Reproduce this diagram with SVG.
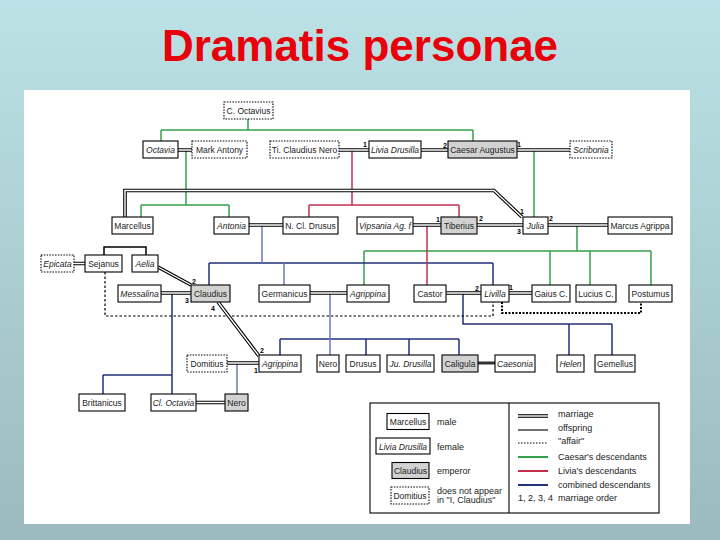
<svg xmlns="http://www.w3.org/2000/svg" width="720" height="540" viewBox="0 0 720 540">
<defs>
<linearGradient id="bg" x1="0" y1="0" x2="0" y2="1">
<stop offset="0" stop-color="#bbe2e6"/>
<stop offset="1" stop-color="#9bbabf"/>
</linearGradient>
<style>
.b{fill:#fff;stroke:#000;stroke-width:1.1}
.e{fill:#d2d2d2;stroke:#000;stroke-width:1.1}
.d{fill:#fff;stroke:#000;stroke-width:1.1;stroke-dasharray:1.5 1.3}
.t{font-family:"Liberation Sans",Arial,sans-serif;font-size:8.5px;fill:#222;text-anchor:middle}
.f{font-style:italic}
.n{font-family:"Liberation Sans",Arial,sans-serif;font-size:7px;font-weight:bold;fill:#000;text-anchor:middle}
.g{fill:none;stroke:#34a04c;stroke-width:1.5}
.r{fill:none;stroke:#c4304c;stroke-width:1.5}
.v{fill:none;stroke:#23307a;stroke-width:1.5}
.s{fill:none;stroke:#6b7db5;stroke-width:1.5}
.k{fill:none;stroke:#000;stroke-width:1.5}
.m1{fill:none;stroke:#000;stroke-width:3.6}
.m2{fill:none;stroke:#fff;stroke-width:1.4}
.lt{font-family:"Liberation Sans",Arial,sans-serif;font-size:9px;fill:#222}
</style>
</defs>
<rect x="0" y="0" width="720" height="540" fill="url(#bg)"/>
<rect x="24" y="90" width="666" height="434" fill="#fff"/>
<text x="360" y="61" font-family="'Liberation Sans',Arial,sans-serif" font-size="44" font-weight="bold" fill="#e8000b" text-anchor="middle">Dramatis personae</text>

<g id="connectors">
<path class="g" d="M248,119V130M161,130H473M161,130V141M473,130V141"/>
<path class="g" d="M186,150V205M141,205H229M141,205V217M229,205V217"/>
<path class="g" d="M534,150V217"/>
<path class="g" d="M577,225V251M364,251H651M364,251V285M550,251V285M590,251V285M651,251V285"/>
<path class="r" d="M352,150V205M309,205H459M309,205V217M459,205V217"/>
<path class="v" d="M209,263H493M209,263V285M493,263V285"/>
<path class="r" d="M427,225V285"/>
<path class="v" d="M172,293V394M103,375H172M103,375V394"/>
<path class="v" d="M280,339H459M280,339V355M366,339V355M409,339V355M459,339V355"/>
<path class="v" d="M463,293V324H612M569,324V355M612,324V355"/>
<path class="s" d="M262,225V263M284,263V285M330,293V355M237,363V394"/>
<path class="k" d="M104,255V247H146V255"/>
<path fill="none" stroke="#333" stroke-width="3" d="M478,363H495"/>
<path fill="none" stroke="#000" stroke-width="1.2" stroke-dasharray="2.5 2" d="M105,272V316H493V302"/>
<path fill="none" stroke="#000" stroke-width="2" stroke-dasharray="2 1.5" d="M502,302V313H641V302"/>
<g id="marriages">
<path class="m1" d="M178,150H192M339,150H369M421,150H448M517,150H570M125,217V190.5H494L522,217M249,225H283M413,225H441M477,225H523M548,225H608M74,263.5H85M158,267L191,285M161,293H191M310,293H347M446,293H481M509,293H532M218,302L259,356M227,363H259M196,402.5H225"/>
<path class="m2" d="M178,150H192M339,150H369M421,150H448M517,150H570M125,217V190.5H494L522,217M249,225H283M413,225H441M477,225H523M548,225H608M74,263.5H85M158,267L191,285M161,293H191M310,293H347M446,293H481M509,293H532M218,302L259,356M227,363H259M196,402.5H225"/>
</g>
<g id="order-labels">
<text class="n" x="365" y="147">1</text>
<text class="n" x="445" y="148">2</text>
<text class="n" x="519" y="147">1</text>
<text class="n" x="438" y="222">1</text>
<text class="n" x="481" y="221">2</text>
<text class="n" x="519" y="234">3</text>
<text class="n" x="551" y="221">2</text>
<text class="n" x="522" y="214">1</text>
<text class="n" x="194" y="284">2</text>
<text class="n" x="187" y="303">3</text>
<text class="n" x="213" y="311">4</text>
<text class="n" x="262" y="353">2</text>
<text class="n" x="256" y="373">1</text>
<text class="n" x="477" y="291">2</text>
<text class="n" x="511" y="290">1</text>
</g>
</g>

<g id="octavius"><rect class="d" x="224" y="102" width="49" height="17"/><text class="t" x="248.5" y="114">C. Octavius</text></g>
<g id="octavia"><rect class="b" x="143" y="141" width="35" height="17"/><text class="t f" x="160.5" y="153">Octavia</text></g>
<g id="antony"><rect class="d" x="192" y="141" width="55" height="17"/><text class="t" x="219.5" y="153">Mark Antony</text></g>
<g id="claudius-nero"><rect class="d" x="270" y="141" width="69" height="17"/><text class="t" x="304.5" y="153">Ti. Claudius Nero</text></g>
<g id="livia"><rect class="b" x="369" y="141" width="52" height="17"/><text class="t f" x="395" y="153">Livia Drusilla</text></g>
<g id="augustus"><rect class="e" x="448" y="141" width="69" height="17"/><text class="t" x="482.5" y="153">Caesar Augustus</text></g>
<g id="scribonia"><rect class="d" x="570" y="141" width="42" height="17"/><text class="t f" x="591" y="153">Scribonia</text></g>

<g id="marcellus"><rect class="b" x="112" y="217" width="41" height="17"/><text class="t" x="132.5" y="229">Marcellus</text></g>
<g id="antonia"><rect class="b" x="214" y="217" width="35" height="17"/><text class="t f" x="231.5" y="229">Antonia</text></g>
<g id="drusus"><rect class="b" x="283" y="217" width="55" height="17"/><text class="t" x="310.5" y="229">N. Cl. Drusus</text></g>
<g id="vipsania"><rect class="b" x="357" y="217" width="56" height="17"/><text class="t f" x="385" y="229">Vipsania Ag. f</text></g>
<g id="tiberius"><rect class="e" x="441" y="217" width="36" height="17"/><text class="t" x="459" y="229">Tiberius</text></g>
<g id="julia"><rect class="b" x="523" y="217" width="25" height="17"/><text class="t f" x="535.5" y="229">Julia</text></g>
<g id="agrippa"><rect class="b" x="608" y="217" width="64" height="17"/><text class="t" x="640" y="229">Marcus Agrippa</text></g>

<g id="epicata"><rect class="d" x="41" y="255" width="33" height="17"/><text class="t f" x="57.5" y="267">Epicata</text></g>
<g id="sejanus"><rect class="b" x="85" y="255" width="37" height="17"/><text class="t" x="103.5" y="267">Sejanus</text></g>
<g id="aelia"><rect class="b" x="132" y="255" width="26" height="17"/><text class="t f" x="145" y="267">Aelia</text></g>

<g id="messalina"><rect class="b" x="118" y="285" width="43" height="17"/><text class="t f" x="139.5" y="297">Messalina</text></g>
<g id="claudius"><rect class="e" x="191" y="285" width="39" height="17"/><text class="t" x="210.5" y="297">Claudius</text></g>
<g id="germanicus"><rect class="b" x="259" y="285" width="51" height="17"/><text class="t" x="284.5" y="297">Germanicus</text></g>
<g id="agrippina"><rect class="b" x="347" y="285" width="42" height="17"/><text class="t f" x="368" y="297">Agrippina</text></g>
<g id="castor"><rect class="b" x="414" y="285" width="32" height="17"/><text class="t" x="430" y="297">Castor</text></g>
<g id="livilla"><rect class="b" x="481" y="285" width="28" height="17"/><text class="t f" x="495" y="297">Livilla</text></g>
<g id="gaius"><rect class="b" x="532" y="285" width="38" height="17"/><text class="t" x="551" y="297">Gaius C.</text></g>
<g id="lucius"><rect class="b" x="576" y="285" width="40" height="17"/><text class="t" x="596" y="297">Lucius C.</text></g>
<g id="postumus"><rect class="b" x="629" y="285" width="43" height="17"/><text class="t" x="650.5" y="297">Postumus</text></g>

<g id="domitius"><rect class="d" x="187" y="355" width="40" height="17"/><text class="t" x="207" y="367">Domitius</text></g>
<g id="agrippina-minor"><rect class="b" x="259" y="355" width="42" height="17"/><text class="t f" x="280" y="367">Agrippina</text></g>
<g id="nero-caesar"><rect class="b" x="317" y="355" width="22" height="17"/><text class="t" x="328" y="367">Nero</text></g>
<g id="drusus-caesar"><rect class="b" x="346" y="355" width="34" height="17"/><text class="t" x="363" y="367">Drusus</text></g>
<g id="drusilla"><rect class="b" x="387" y="355" width="47" height="17"/><text class="t f" x="410.5" y="367">Ju. Drusilla</text></g>
<g id="caligula"><rect class="e" x="442" y="355" width="36" height="17"/><text class="t" x="460" y="367">Caligula</text></g>
<g id="caesonia"><rect class="b" x="495" y="355" width="40" height="17"/><text class="t f" x="515" y="367">Caesonia</text></g>
<g id="helen"><rect class="b" x="557" y="355" width="27" height="17"/><text class="t f" x="570.5" y="367">Helen</text></g>
<g id="gemellus"><rect class="b" x="595" y="355" width="40" height="17"/><text class="t" x="615" y="367">Gemellus</text></g>

<g id="brittanicus"><rect class="b" x="79" y="394" width="46" height="17"/><text class="t" x="102" y="406">Brittanicus</text></g>
<g id="claudia-octavia"><rect class="b" x="151" y="394" width="45" height="17"/><text class="t f" x="173.5" y="406">Cl. Octavia</text></g>
<g id="nero"><rect class="e" x="225" y="394" width="23" height="17"/><text class="t" x="236.5" y="406">Nero</text></g>

<g id="legend">
<rect x="370" y="403" width="289" height="110" fill="#fff" stroke="#000" stroke-width="1.1"/>
<path d="M509,403V513" stroke="#000" stroke-width="1.1"/>
<rect class="b" x="387" y="413.5" width="42" height="16"/><text class="t" x="408" y="425">Marcellus</text>
<rect class="b" x="376" y="438" width="54" height="16" stroke-width="1.6"/><text class="t f" x="403" y="449.5">Livia Drusilla</text>
<rect class="e" x="392" y="462.5" width="37" height="16"/><text class="t" x="410.5" y="474">Claudius</text>
<rect class="d" x="391" y="487" width="38" height="17"/><text class="t" x="410" y="499">Domitius</text>
<text class="lt" x="437" y="425">male</text>
<text class="lt" x="437" y="449.5">female</text>
<text class="lt" x="437" y="474">emperor</text>
<text class="lt" x="437" y="494">does not appear</text>
<text class="lt" x="437" y="503">in "I, Claudius"</text>
<path class="m1" d="M518,416H548"/><path class="m2" d="M518,416H548"/>
<path d="M518,430H548" stroke="#000" stroke-width="1.1"/>
<path d="M518,443H548" stroke="#000" stroke-width="1.1" stroke-dasharray="1.5 1.5"/>
<path d="M518,457H548" stroke="#34a04c" stroke-width="2"/>
<path d="M518,471H548" stroke="#c4304c" stroke-width="2"/>
<path d="M518,485H548" stroke="#23307a" stroke-width="2"/>
<text class="lt" x="558" y="417">marriage</text>
<text class="lt" x="558" y="431">offspring</text>
<text class="lt" x="558" y="444">"affair"</text>
<text class="lt" x="558" y="460">Caesar's descendants</text>
<text class="lt" x="558" y="474">Livia's descendants</text>
<text class="lt" x="558" y="488">combined descendants</text>
<text class="lt" x="518" y="501" font-size="7">1, 2, 3, 4</text>
<text class="lt" x="558" y="501">marriage order</text>
</g>
</svg>
